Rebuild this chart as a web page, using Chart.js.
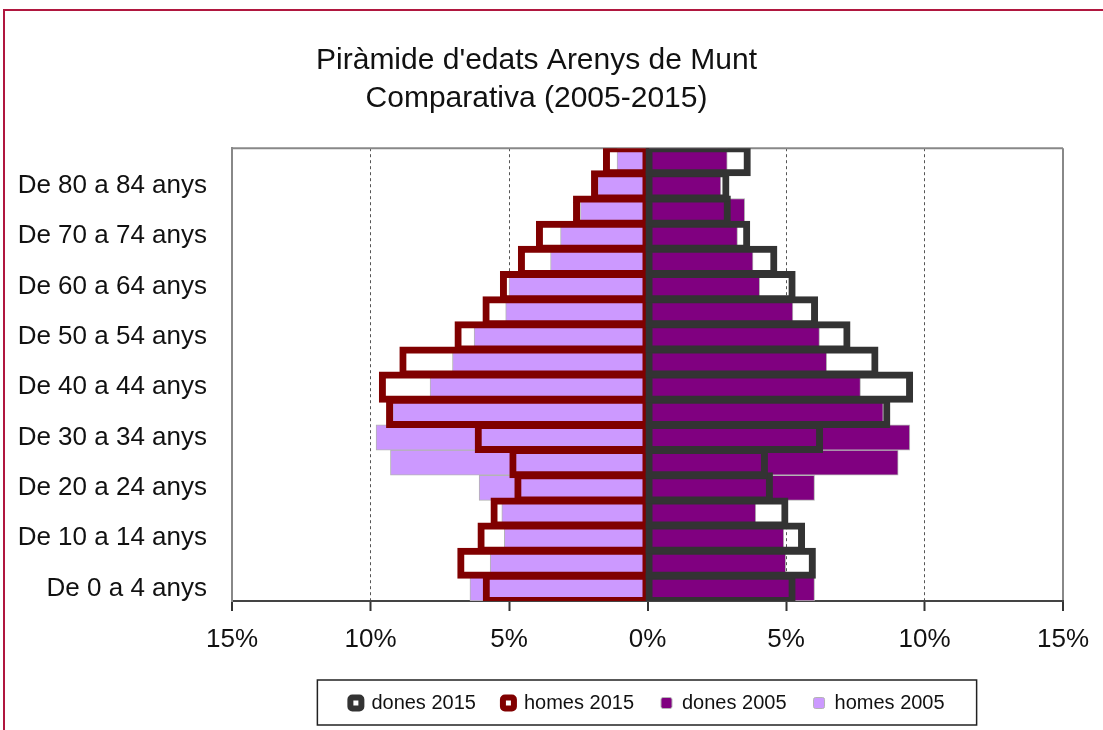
<!DOCTYPE html>
<html>
<head>
<meta charset="utf-8">
<script src="https://cdn.jsdelivr.net/npm/chart.js@4"></script>
<style>
    html, body { margin: 0; padding: 0; background: #fff; overflow: hidden; }
    #wrap { position: relative; width: 1103px; height: 730px; }
    #frame { position: absolute; left: 3px; top: 9px; width: 1200px; height: 800px;
             border-left: 2px solid #b0173f; border-top: 2px solid #b0173f; pointer-events: none; }
</style>
</head>
<body>
<div id="wrap">
    <canvas id="pyramidChart" width="1103" height="730"></canvas>
    <div id="frame"></div>
</div>
<script>
// Age groups, youngest first (drawn bottom-up)
const ages = ['De 0 a 4 anys', 'De 5 a 9 anys', 'De 10 a 14 anys', 'De 15 a 19 anys',
    'De 20 a 24 anys', 'De 25 a 29 anys', 'De 30 a 34 anys', 'De 35 a 39 anys',
    'De 40 a 44 anys', 'De 45 a 49 anys', 'De 50 a 54 anys', 'De 55 a 59 anys',
    'De 60 a 64 anys', 'De 65 a 69 anys', 'De 70 a 74 anys', 'De 75 a 79 anys',
    'De 80 a 84 anys', 'De 85 anys i més'];

// Share of total population (%)
const dones2015 = [5.24, 5.97, 5.58, 4.98, 4.42, 4.24, 6.23, 8.66, 9.48, 8.23, 7.22, 6.05, 5.24, 4.58, 3.60, 2.90, 2.85, 3.62];
const homes2015 = [5.84, 6.76, 6.03, 5.56, 4.70, 4.88, 6.13, 9.33, 9.59, 8.85, 6.86, 5.85, 5.22, 4.57, 3.92, 2.58, 1.93, 1.50];
const dones2005 = [6.03, 4.99, 4.92, 3.91, 6.03, 9.05, 9.47, 8.51, 7.69, 6.47, 6.21, 5.25, 4.05, 3.81, 3.25, 3.51, 2.65, 2.88];
const homes2005 = [6.41, 5.68, 5.17, 5.26, 6.08, 9.28, 9.80, 9.20, 7.85, 7.04, 6.26, 5.12, 5.00, 3.50, 3.14, 2.42, 1.80, 1.10];

const xTicks = [-15, -10, -5, 0, 5, 10, 15];

Chart.defaults.font.family = "'Liberation Sans', Arial, sans-serif";
Chart.defaults.color = '#111';

// top edge of the plot frame + box round the legend
const framePlugin = {
    id: 'framePlugin',
    beforeDatasetsDraw(chart) {
        const { ctx, chartArea } = chart;
        ctx.save();
        ctx.strokeStyle = '#888';
        ctx.lineWidth = 2;
        ctx.beginPath();
        ctx.moveTo(chartArea.left, chartArea.top);
        ctx.lineTo(chartArea.right, chartArea.top);
        ctx.stroke();
        ctx.restore();
    },
    afterDraw(chart) {
        const boxes = chart.legend.legendHitBoxes;
        if (!boxes || !boxes.length) return;
        const first = boxes[0];
        const last = boxes[boxes.length - 1];
        const left = first.left - 33;
        const right = last.left + last.width + 32;
        const mid = first.top + first.height / 2;
        const ctx = chart.ctx;
        ctx.save();
        ctx.strokeStyle = '#222';
        ctx.lineWidth = 1.5;
        ctx.strokeRect(left, mid - 23, right - left, 45);
        ctx.restore();
    }
};

// 2015: thick outline centred on the bar edge (thin border + inflate)
const outline = {
    backgroundColor: 'rgba(0,0,0,0)',
    borderWidth: 1,
    inflateAmount: 3,
    borderSkipped: false,
    barPercentage: 1,
    categoryPercentage: 1,
    grouped: false
};
const solid = {
    borderColor: '#b4b4b4',
    borderWidth: 1,
    barPercentage: 1,
    categoryPercentage: 1,
    grouped: false
};

const ctx = document.getElementById('pyramidChart').getContext('2d');
const pyramidChart = new Chart(ctx, {
    type: 'bar',
    data: {
        labels: ages,
        datasets: [
            Object.assign({ label: 'dones 2015', data: dones2015, borderColor: '#333333' }, outline),
            Object.assign({ label: 'homes 2015', data: homes2015.map(v => -v), borderColor: '#800000' }, outline),
            Object.assign({ label: 'dones 2005', data: dones2005, backgroundColor: '#800080' }, solid),
            Object.assign({ label: 'homes 2005', data: homes2005.map(v => -v), backgroundColor: '#cc99ff' }, solid)
        ]
    },
    options: {
        indexAxis: 'y',
        responsive: false,
        animation: false,
        events: [],
        layout: {
            padding: { left: 10, right: 40, top: 0, bottom: 7 }
        },
        plugins: {
            title: {
                display: true,
                text: ["Piràmide d'edats Arenys de Munt", 'Comparativa (2005-2015)'],
                color: '#111',
                font: { size: 30, weight: 'normal', lineHeight: 1.27 },
                padding: { top: 42, bottom: 30 }
            },
            legend: {
                position: 'bottom',
                fullSize: false,
                labels: {
                    boxWidth: 11,
                    boxHeight: 11,
                    padding: 27,
                    color: '#111',
                    font: { size: 20 },
                    useBorderRadius: true,
                    borderRadius: 2,
                    generateLabels: chart => Chart.defaults.plugins.legend.labels.generateLabels(chart).map(item => {
                        if (item.text.indexOf('2015') !== -1) item.lineWidth = 6;
                        return item;
                    })
                }
            },
            tooltip: { enabled: false }
        },
        scales: {
            x: {
                min: xTicks[0],
                max: xTicks[xTicks.length - 1],
                afterBuildTicks: scale => { scale.ticks = xTicks.map(v => ({ value: v })); },
                ticks: {
                    callback: v => Math.abs(v) + '%',
                    font: { size: 26 },
                    color: '#111',
                    padding: 13,
                    maxRotation: 0
                },
                grid: {
                    color: c => c.tick.value === 0 ? '#000' : (Math.abs(c.tick.value) === 15 ? '#888' : '#555'),
                    lineWidth: c => (c.tick.value % 15 === 0) ? 2 : 1,
                    tickColor: '#333',
                    tickLength: 10,
                    tickWidth: 2
                },
                border: {
                    color: '#444',
                    width: 2,
                    dash: c => (c.tick && c.tick.value % 15 !== 0) ? [3, 3] : []
                },
                afterFit: scale => { scale.height = 65; }
            },
            y: {
                reverse: true,
                grid: { display: false },
                border: { color: '#888', width: 2 },
                ticks: {
                    autoSkip: false,
                    callback: (v, i) => i % 2 === 0 ? ages[i] : '',
                    font: { size: 26 },
                    color: '#111',
                    padding: 17
                },
                afterFit: scale => { scale.width = 222; }
            }
        }
    },
    plugins: [framePlugin]
});
</script>
</body>
</html>
